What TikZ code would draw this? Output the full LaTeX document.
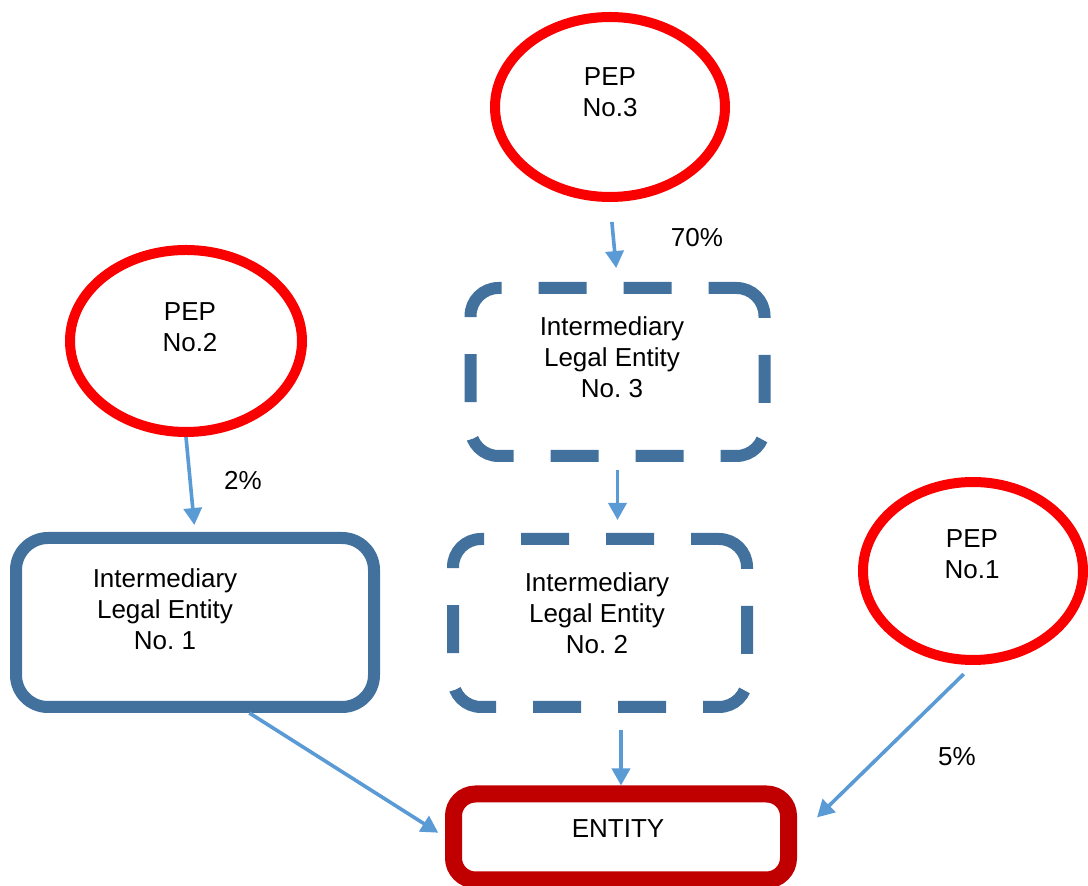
\documentclass[tikz,border=0pt]{standalone}
\usepackage{fontspec}
\setmainfont{Liberation Sans}
\usetikzlibrary{arrows.meta,shapes.geometric}

\definecolor{pepred}{RGB}{250,0,0}
\definecolor{boxblue}{RGB}{65,113,156}
\definecolor{entred}{RGB}{192,0,0}
\definecolor{arrblue}{RGB}{91,155,213}

\begin{document}
\begin{tikzpicture}[x=0.5pt,y=-0.5pt,
	every node/.style={font=\fontsize{13}{15.5}\selectfont},
	pep/.style={draw=pepred,line width=5pt,ellipse,minimum width=115pt,minimum height=90pt},
	ile/.style={draw=boxblue,line width=6pt,rounded corners=14pt,minimum width=147pt,minimum height=84pt},
	iledash/.style={ile,dash pattern=on 24pt off 18.5pt,dash phase=10pt},
	entitybox/.style={draw=entred,line width=8.5pt,rounded corners=11pt,minimum width=167.5pt,minimum height=43pt},
	txt/.style={align=center,inner sep=0pt},
	own/.style={draw=arrblue,line width=1.8pt,-{Triangle[width=9pt,length=8.5pt]}}
]

\fill[white] (0,0) rectangle (1088,886);
\useasboundingbox (0,0) rectangle (1088,886);

% PEPS

\node[pep] (pep3) at (610,107) {};
\node[txt] (pep3txt) at (610,92) {PEP\\No.3};
\node[pep,minimum width=116pt,minimum height=91pt] (pep2) at (186,341) {};
\node[txt] (pep2txt) at (190,327) {PEP\\No.2};
\node[pep,minimum width=110pt,minimum height=89pt] (pep1) at (973,571) {};
\node[txt] (pep1txt) at (972,554) {PEP\\No.1};

% INTERMEDIARIES

\node[iledash] (ile3) at (617.5,372) {};
\node[txt] (ile3txt) at (612,357) {Intermediary\\Legal Entity\\No.\ 3};
\node[iledash] (ile2) at (600,623) {};
\node[txt] (ile2txt) at (597,613) {Intermediary\\Legal Entity\\No.\ 2};
\node[ile,minimum width=179pt,minimum height=84.5pt,rounded corners=16pt] (ile1) at (195,622.5) {};
\node[txt] (ile1txt) at (165,609) {Intermediary\\Legal Entity\\No.\ 1};

% ENTITY

\node[entitybox] (entity) at (621,837) {};
\node[txt] (entitytxt) at (618,829) {ENTITY};

% OWNERSHIP

\draw[own,shorten <=10pt,shorten >=7pt] (pep3.south) -- (ile3.north);
\node[txt] (p70) at (697,238) {70\%};
\draw[own,shorten >=3.5pt] (pep2.south) -- (ile1.north);
\node[txt] (p2) at (243,481) {2\%};
\draw[own,shorten <=4pt,shorten >=6.5pt] (ile3.south) -- (ile3.south |- ile2.north);
\draw[own,shorten <=8.5pt] (entity.north |- ile2.south) -- (entity.north);
\draw[own,shorten >=4pt] (ile1.-59) -- (entity.west);
\draw[own,shorten <=6.5pt,shorten >=14pt] (pep1.south) -- (entity.east);
\node[txt] (p5) at (957,757) {5\%};

\end{tikzpicture}
\end{document}
